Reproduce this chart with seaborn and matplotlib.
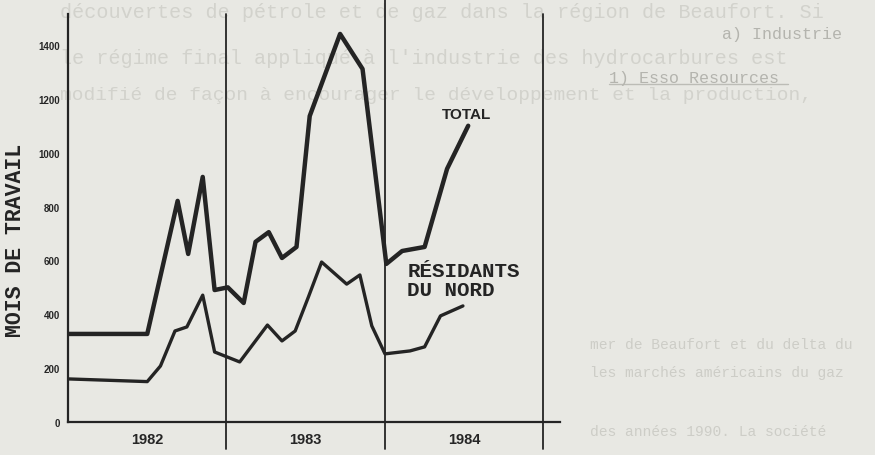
import matplotlib
matplotlib.use("Agg")
import matplotlib.pyplot as plt
import pandas as pd
import seaborn as sns

# mois comptés depuis le début de l'axe (3 mois par graduation)
mois_total = [0, 6, 8.3, 9.1, 10.2, 11.1, 12.1, 13.3, 14.2, 15.2, 16.2, 17.3,
              18.3, 20.6, 22.3, 24.1, 25.3, 27.0, 28.7, 30.3]
total = [327, 327, 821, 624, 910, 490, 500, 442, 669, 705, 609, 650,
         1136, 1441, 1311, 587, 635, 650, 940, 1100]

mois_nord = [0, 6, 7.0, 8.1, 9.0, 10.2, 11.1, 13.0, 15.1, 16.2, 17.2, 18.2,
             19.2, 21.1, 22.1, 23.0, 24.0, 25.9, 27.0, 28.2, 29.9]
residants_nord = [160, 150, 208, 338, 353, 471, 260, 223, 360, 301, 338, 464,
                  594, 512, 546, 357, 253, 264, 279, 394, 431]

annees = ["1982", "1983", "1984"]
graduations_y = [0, 200, 400, 600, 800, 1000, 1200, 1400]

# texte du document scanné, visible en transparence
texte_fond = [
    (13, 60, "découvertes de pétrole et de gaz dans la région de Beaufort. Si", 14.5, "#d2d2cc"),
    (58, 60, "le régime final appliqué à l'industrie des hydrocarbures est", 14.5, "#d2d2cc"),
    (95, 60, "modifié de façon à encourager le développement et la production,", 14, "#d2d2cc"),
    (35, 722, "a) Industrie", 12, "#b4b4ae"),
    (78, 609, "1) Esso Resources", 12, "#b4b4ae"),
    (345, 590, "mer de Beaufort et du delta du", 10.5, "#cdcdc7"),
    (373, 590, "les marchés américains du gaz", 10.5, "#cdcdc7"),
    (432, 590, "des années 1990. La société", 10.5, "#cdcdc7"),
]

df_total = pd.DataFrame({"mois": mois_total, "valeur": total})
df_nord = pd.DataFrame({"mois": mois_nord, "valeur": residants_nord})

sns.set_style("white")
plt.rcParams["font.family"] = ["Liberation Sans", "DejaVu Sans"]

W, H = 875, 456
fond = "#e8e8e3"
encre = "#242424"

fig = plt.figure(figsize=(W / 100, H / 100), dpi=100, facecolor=fond)

for y, x, txt, taille, couleur in texte_fond:
    fig.text(x / W, 1 - y / H, txt, fontsize=taille, color=couleur,
             family="Liberation Mono", ha="left", va="center", zorder=-1)
fig.lines.append(plt.Line2D([609 / W, 788 / W], [1 - 85 / H, 1 - 85 / H],
                            transform=fig.transFigure, color="#bcbcb6", lw=1, zorder=-1))

ax = fig.add_axes([68 / W, 1 - 423 / H, (560 - 68) / W, (423 - 15) / H])
ax.patch.set_alpha(0)

sns.lineplot(data=df_total, x="mois", y="valeur", ax=ax, color=encre,
             linewidth=3.2, estimator=None, sort=False)
sns.lineplot(data=df_nord, x="mois", y="valeur", ax=ax, color=encre,
             linewidth=2.4, estimator=None, sort=False)

ax.set_xlim(0, 37.25)
ax.set_ylim(0, 1515)

# séparations entre les années
for m in [12, 24, 36]:
    haut = 1.037 if m == 24 else 1.0
    ax.axvline(m, ymin=-0.065, ymax=haut, color=encre, lw=1.3, clip_on=False)

for cote in ["top", "right"]:
    ax.spines[cote].set_visible(False)
for cote in ["left", "bottom"]:
    ax.spines[cote].set_color(encre)
    ax.spines[cote].set_linewidth(1.6)

ax.set_yticks(graduations_y)
ax.set_yticklabels([str(v) for v in graduations_y], fontsize=7, fontweight="bold")
ax.tick_params(axis="y", direction="out", length=5, width=1.3, color=encre, pad=1)

trimestres = list(range(3, 37, 3))
etiquettes = []
for t in trimestres:
    etiquettes.append(annees[t // 12] if t % 12 == 6 else "")
ax.set_xticks(trimestres)
ax.set_xticklabels(etiquettes, fontsize=10.5, fontweight="bold")
ax.tick_params(axis="x", direction="inout", length=7, width=1.2, color=encre, pad=4)

ax.set_xlabel("")
ax.set_ylabel("")

ax.text(28.3, 1130, "TOTAL", fontsize=11, fontweight="bold", color=encre,
        ha="left", va="baseline")
ax.text(25.7, 598, "RÉSIDANTS\nDU NORD", fontsize=15, fontweight="bold",
        family="Liberation Mono", color=encre, ha="left", va="top", linespacing=1.0)

fig.text(16 / W, 1 - 240 / H, "MOIS DE TRAVAIL", rotation=90, fontsize=15.5,
         fontweight="bold", family="Liberation Mono", color=encre,
         ha="center", va="center")

plt.savefig("out.png", dpi=100, facecolor=fond)
plt.close()
